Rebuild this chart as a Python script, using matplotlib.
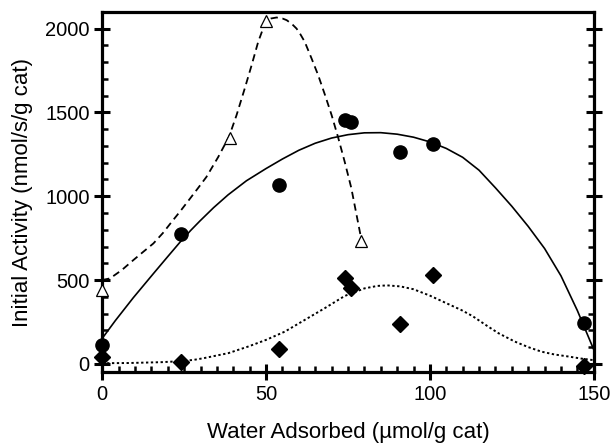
import matplotlib
matplotlib.use("Agg")
import matplotlib.pyplot as plt
from matplotlib.ticker import MultipleLocator

plt.rcParams["font.family"] = ["Liberation Sans", "DejaVu Sans"]

# Measured activities
water_circle = [0, 24, 54, 74, 76, 91, 101, 147]
activity_circle = [115, 775, 1065, 1455, 1445, 1265, 1312, 242]

water_triangle = [0, 39, 50, 79]
activity_triangle = [442, 1350, 2048, 732]

water_diamond = [0, 24, 54, 74, 76, 91, 101, 147]
activity_diamond = [38, 12, 88, 515, 450, 237, 532, -10]

# Trend curves (solid, dashed, dotted)
fit_solid_x = [0, 4, 9.5, 15.6, 20, 23.7, 27, 29.8, 34, 38.4, 44, 50, 55, 60, 65,
               70, 75, 80, 85, 90, 95, 100, 105, 110, 115, 120, 125, 130, 135,
               140, 145, 150]
fit_solid_y = [152, 258, 395, 538, 640, 725, 796, 852, 932, 1008, 1092, 1165, 1222,
               1274, 1316, 1347, 1367, 1378, 1379, 1370, 1352, 1324, 1285, 1232,
               1155, 1050, 940, 820, 688, 525, 318, 85]

fit_dashed_x = [0, 2.4, 6, 9.5, 12.5, 15.6, 18.5, 21.2, 24, 26.8, 29.3, 31.8, 35.4,
                38.7, 41, 43.5, 45.6, 47.6, 49.9, 51.5, 53.2, 55, 56.3, 58, 59.3,
                60.5, 61.8, 63.9, 65.9, 68, 70, 72, 74, 76, 77.6, 79.1]
fit_dashed_y = [500, 510, 560, 619, 668, 718, 780, 847, 915, 986, 1050, 1115, 1234,
                1355, 1484, 1643, 1782, 1921, 2043, 2060, 2066, 2060, 2050, 2025, 2000,
                1965, 1921, 1821, 1722, 1603, 1484, 1350, 1205, 1050, 890, 740]

fit_dotted_x = [0, 8, 18, 24, 28, 31, 38.5, 44.5, 50, 55.7, 61.8, 67.9, 74, 80, 84,
                87, 91, 95, 100, 105, 109.6, 113, 117.8, 121, 125.9, 130, 134, 138,
                142.2, 146, 150]
fit_dotted_y = [4, 5, 10, 16, 24, 34, 64, 103, 143, 192, 262, 332, 405, 450, 465,
                468, 462, 445, 407, 362, 321, 285, 222, 182, 133, 100, 73, 56,
                44, 32, 22]

x_ticks = [0, 50, 100, 150]
y_ticks = [0, 500, 1000, 1500, 2000]

fig = plt.figure(figsize=(6.14, 4.45), dpi=100)
ax = fig.add_axes([0.1665, 0.1635, 0.8005, 0.810])

ax.plot(fit_solid_x, fit_solid_y, color="black", lw=1.2)
ax.plot(fit_dashed_x, fit_dashed_y, color="black", lw=1.3, linestyle=(0, (4, 2.6)))
ax.plot(fit_dotted_x, fit_dotted_y, color="black", lw=1.4, linestyle=(0, (1.2, 1.3)))

ax.plot(water_circle, activity_circle, "o", color="black", ms=9.5,
        clip_on=False, zorder=5)
ax.plot(water_triangle, activity_triangle, "^", mfc="white", mec="black",
        mew=0.9, ms=8.5, clip_on=False, zorder=5)
ax.plot(water_diamond, activity_diamond, "D", color="black", ms=7.8,
        clip_on=False, zorder=5)

ax.set_xlim(0, 150)
ax.set_ylim(-50, 2100)
ax.set_xticks(x_ticks)
ax.set_yticks(y_ticks)
ax.xaxis.set_minor_locator(MultipleLocator(5))
ax.yaxis.set_minor_locator(MultipleLocator(100))

for side in ax.spines.values():
    side.set_linewidth(2.3)

ax.tick_params(which="major", direction="inout", length=11, width=2.2,
               labelsize=14.5, pad=3.5, top=False, right=True, bottom=True, left=True)
ax.tick_params(which="minor", direction="in", length=4, width=1.8,
               top=False, right=True, bottom=True, left=True)
ax.tick_params(axis="x", which="major", pad=4)

ax.set_xlabel("Water Adsorbed (µmol/g cat)", fontsize=16, labelpad=13)
ax.set_ylabel("Initial Activity (nmol/s/g cat)", fontsize=16, labelpad=9)

fig.savefig("out.png", dpi=100)
